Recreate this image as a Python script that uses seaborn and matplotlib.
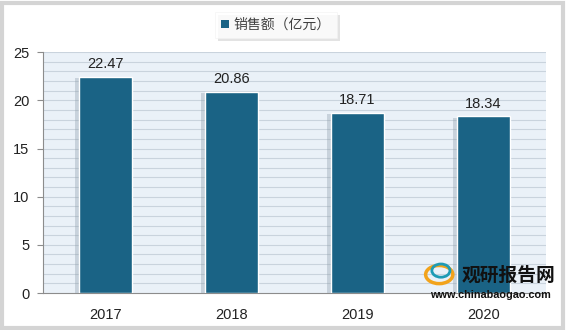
import matplotlib
matplotlib.use("Agg")
import matplotlib.pyplot as plt
import matplotlib.patheffects as pe
from matplotlib.patches import Rectangle, Ellipse
import seaborn as sns
import pandas as pd

years = ["2017", "2018", "2019", "2020"]
sales = [22.47, 20.86, 18.71, 18.34]
series_name = "销售额（亿元）"
yticks = [0, 5, 10, 15, 20, 25]

sns.set_theme(style="white")
plt.rcParams['font.family'] = ['Noto Sans CJK SC', 'DejaVu Sans']

df = pd.DataFrame({"year": years, "sales": sales})

fig = plt.figure(figsize=(5.66, 3.30), dpi=100)
fig.patch.set_facecolor("white")
# outer frame
fig.patches.append(Rectangle((0.004, 0.006), 0.99, 0.985, transform=fig.transFigure,
                             fill=False, edgecolor="#D4D4D4", linewidth=3, zorder=0))

ax = fig.add_axes([0.076, 0.112, 0.889, 0.730])
ax.set_facecolor("#EAF1F8")

bar_color = "#1A6385"
sns.barplot(data=df, x="year", y="sales", color=bar_color, width=0.42, ax=ax,
            saturation=1, edgecolor="white", linewidth=1.0, zorder=3)
for p in ax.patches:
    p.set_path_effects([pe.SimplePatchShadow(offset=(-3, -1), shadow_rgbFace="#8a9aa8", alpha=0.35),
                        pe.Normal()])

for i, v in enumerate(sales):
    ax.text(i, v + 0.6, f"{v:.2f}", ha="center", va="bottom", fontsize=10.5, color="#222222",
            family=["Liberation Sans", "DejaVu Sans"], zorder=5)

ax.set_ylim(0, 25)
ax.set_xlim(-0.5, 3.5)
ax.set_yticks(yticks)
for g in range(1, 26):
    ax.axhline(g, color="#C9D3DD", linewidth=0.8, zorder=1)

ax.set_xlabel("")
ax.set_ylabel("")
for s in ["top", "right"]:
    ax.spines[s].set_visible(False)
ax.spines["left"].set_color("#8C8C8C")
ax.spines["bottom"].set_color("#8C8C8C")
ax.spines["left"].set_linewidth(0.8)
ax.spines["bottom"].set_linewidth(0.8)
ax.tick_params(axis="y", left=True, length=4, width=0.8, color="#8C8C8C", labelsize=10.5,
               labelcolor="#222222", pad=6)
ax.tick_params(axis="x", bottom=False, labelsize=10.5, labelcolor="#222222", pad=5)
for lab in ax.get_xticklabels() + ax.get_yticklabels():
    lab.set_family(["Liberation Sans", "DejaVu Sans"])

# legend
handle = Rectangle((0, 0), 1, 1, facecolor=bar_color, edgecolor="none")
leg = fig.legend([handle], [series_name], loc="center", bbox_to_anchor=(0.488, 0.924),
                 frameon=True, fontsize=10, handlelength=0.55, handleheight=0.55,
                 handletextpad=0.35, borderpad=0.45, borderaxespad=0, fancybox=False, shadow=False)
leg.get_frame().set_edgecolor("#F2F2F2")
leg.get_frame().set_linewidth(0.5)
leg.get_frame().set_path_effects([pe.SimplePatchShadow(offset=(2, -2), shadow_rgbFace="#c8c8c8", alpha=0.5), pe.Normal()])
for t in leg.get_texts():
    t.set_color("#404040")

# watermark
fig.text(0.816, 0.166, "观研报告网", fontsize=13.5, fontweight="bold", color="#111111",
         family=["Noto Sans CJK SC"], ha="left", va="center", zorder=10)
fig.text(0.866, 0.106, "www.chinabaogao.com", fontsize=7.8, fontweight="bold", color="#111111",
         family=["Liberation Sans", "DejaVu Sans"], ha="center", va="center", zorder=10)
fig.patches.append(Ellipse((0.776, 0.168), 0.048, 0.055, transform=fig.transFigure,
                   facecolor="none", edgecolor="#F2A31B", linewidth=2.5, zorder=9))
fig.patches.append(Ellipse((0.779, 0.180), 0.032, 0.04, transform=fig.transFigure,
                   facecolor="none", edgecolor="#1E9BB5", linewidth=2, zorder=9))

fig.savefig("out.png", dpi=100)
